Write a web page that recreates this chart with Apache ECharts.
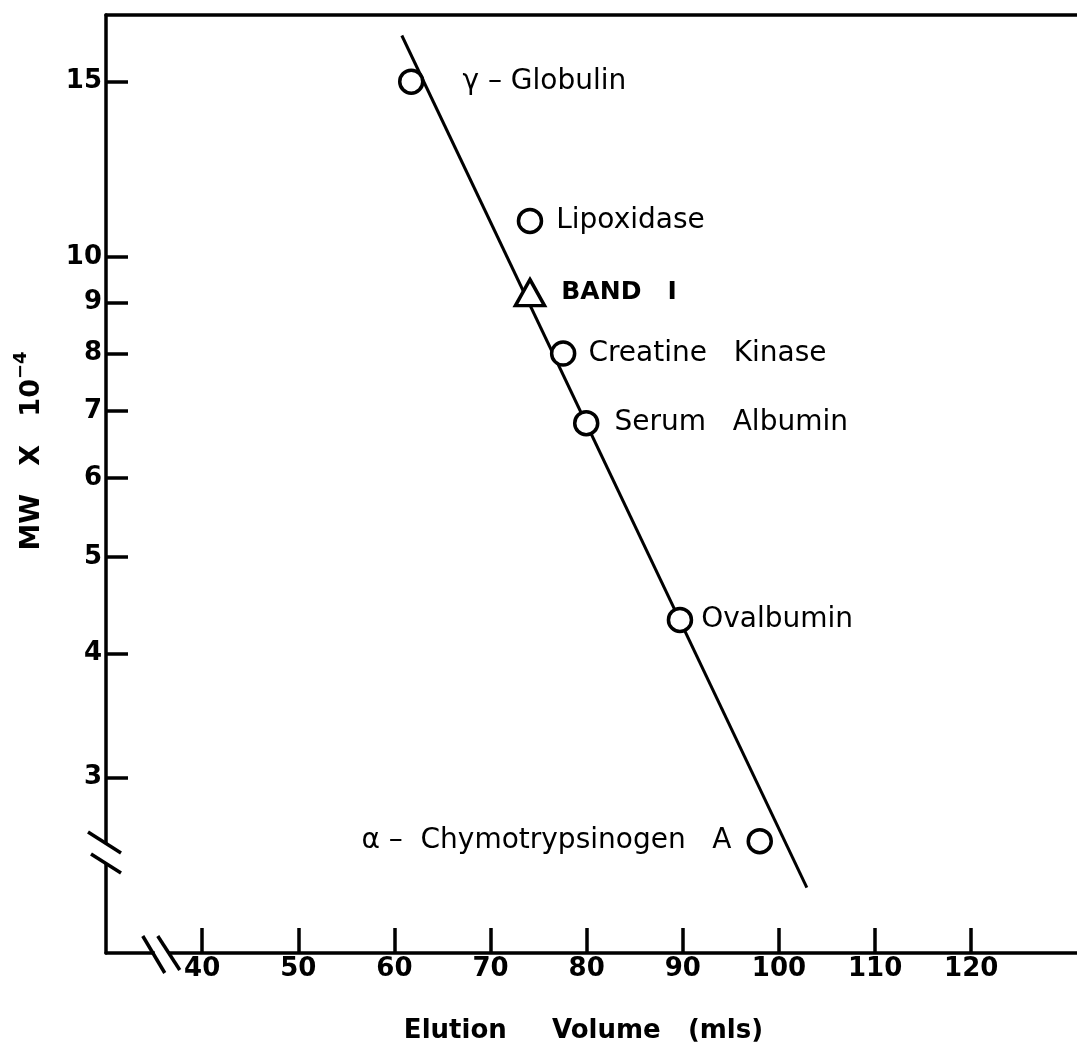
<!DOCTYPE html>
<html><head><meta charset="utf-8">
<script src="https://cdn.jsdelivr.net/npm/echarts@6/dist/echarts.min.js"></script>
<style>html,body{margin:0;padding:0;background:#fff}#c{width:1077px;height:1049px}</style>
</head><body><div id="c"></div>
<script>
// ---- data ----
const proteinNames = ['γ – Globulin', 'Lipoxidase', 'Creatine   Kinase', 'Serum   Albumin', 'Ovalbumin', 'α –  Chymotrypsinogen   A'];
const proteinElution = [61.75, 74.1, 77.55, 79.95, 89.7, 98.0];
const proteinMW = [15, 10.87, 8.0, 6.81, 4.32, 2.59];
const bandNames = ['BAND   I'];
const bandElution = [74.1];
const bandMW = [9.21];
const fitElution = [60.77, 102.9];
const fitMW = [16.69, 2.326];
const xTicks = [40, 50, 60, 70, 80, 90, 100, 110, 120];
const yTicks = [3, 4, 5, 6, 7, 8, 9, 10, 15];

// label placement (layout, not data)
const proteinLabelLayout = [
  {position: 'right', distance: 38},
  {position: 'right', distance: 13},
  {position: 'right', distance: 12},
  {position: 'right', distance: 15},
  {position: 'right', distance: 8},
  {position: 'left', distance: 15}
];

const FONT = 'DejaVu Sans';
const chart = echarts.init(document.getElementById('c'), null, {renderer: 'canvas'});

const proteinData = proteinNames.map((n, i) => ({
  name: n, value: [proteinElution[i], proteinMW[i]],
  label: Object.assign({show: true, formatter: n}, proteinLabelLayout[i])
}));
const bandData = bandNames.map((n, i) => ({
  name: n, value: [bandElution[i], bandMW[i]],
  label: {show: true, formatter: n, position: 'right', distance: 15}
}));

const axisLineStyle = {color: '#000', width: 3.5};
const option = {
  animation: false,
  backgroundColor: '#fff',
  grid: {left: 106, right: 0, top: 15, bottom: 96, containLabel: false, outerBoundsMode: 'none'},
  xAxis: [{
    type: 'value', min: 30, max: 131,
    splitLine: {show: false},
    axisLine: {show: true, onZero: false, lineStyle: axisLineStyle},
    axisTick: {show: true, inside: true, length: 25, customValues: xTicks, lineStyle: {color: '#000', width: 3.5}},
    axisLabel: {customValues: xTicks, margin: 3, color: '#000', fontFamily: FONT, fontWeight: 'bold', fontSize: 26},
    name: 'Elution     Volume   (mls)', nameLocation: 'middle', nameGap: 65,
    nameTextStyle: {color: '#000', fontFamily: FONT, fontWeight: 'bold', fontSize: 26, padding: [0, 16, 0, 0]}
  }, {
    type: 'value', min: 30, max: 131, position: 'top',
    splitLine: {show: false},
    axisLine: {show: true, onZero: false, lineStyle: axisLineStyle},
    axisTick: {show: false}, axisLabel: {show: false}
  }],
  yAxis: [{
    type: 'log', logBase: 10, min: 2, max: 17.5,
    splitLine: {show: false}, minorTick: {show: false},
    axisLine: {show: true, onZero: false, lineStyle: axisLineStyle},
    axisTick: {show: true, inside: true, length: 22, customValues: yTicks, lineStyle: {color: '#000', width: 3.5}},
    axisLabel: {customValues: yTicks, margin: 4, color: '#000', fontFamily: FONT, fontWeight: 'bold', fontSize: 26,
      formatter: v => String(Math.round(v))},
    name: 'MW   X   10{sup|−4}', nameLocation: 'middle', nameGap: 54,
    nameTextStyle: {color: '#000', fontFamily: FONT, fontWeight: 'bold', fontSize: 27, lineHeight: 40,
      padding: [0, 0, 0, 66],
      rich: {sup: {fontFamily: FONT, fontWeight: 'bold', fontSize: 18, lineHeight: 40, verticalAlign: 'top', color: '#000'}}}
  }],
  series: [{
    type: 'line', name: 'fit', z: 2,
    data: fitElution.map((x, i) => [x, fitMW[i]]),
    symbol: 'none', lineStyle: {color: '#000', width: 3}
  }, {
    type: 'scatter', name: 'proteins', z: 3,
    symbol: 'circle', symbolSize: 23,
    itemStyle: {color: '#fff', borderColor: '#000', borderWidth: 3.5, opacity: 1},
    label: {color: '#000', fontFamily: FONT, fontSize: 28},
    data: proteinData
  }, {
    type: 'scatter', name: 'band', z: 3,
    symbol: 'triangle', symbolSize: [29, 26],
    itemStyle: {color: '#fff', borderColor: '#000', borderWidth: 3.5, opacity: 1},
    label: {color: '#000', fontFamily: FONT, fontSize: 25, fontWeight: 'bold'},
    data: bandData
  }]
};
chart.setOption(option);

// axis-break marks, placed through the axes' own coordinate conversion
const breakX = 35.8, breakY = 2.52;
const py = chart.convertToPixel({xAxisIndex: 0, yAxisIndex: 0}, [30, breakY]);
const px = chart.convertToPixel({xAxisIndex: 0, yAxisIndex: 0}, [breakX, 2]);
const ls = {stroke: '#000', lineWidth: 3.5};
chart.setOption({graphic: [
  {type: 'rect', shape: {x: py[0] - 4, y: py[1] - 9, width: 8, height: 19}, style: {fill: '#fff'}, z: 100},
  {type: 'line', shape: {x1: py[0] - 18, y1: py[1] - 21, x2: py[0] + 15, y2: py[1]}, style: ls, z: 101},
  {type: 'line', shape: {x1: py[0] - 15, y1: py[1] + 1, x2: py[0] + 15, y2: py[1] + 20}, style: ls, z: 101},
  {type: 'rect', shape: {x: px[0] - 7, y: px[1] - 4, width: 14, height: 8}, style: {fill: '#fff'}, z: 100},
  {type: 'line', shape: {x1: px[0] - 19, x2: px[0] + 3, y1: px[1] - 17, y2: px[1] + 20}, style: ls, z: 101},
  {type: 'line', shape: {x1: px[0] - 4, x2: px[0] + 18, y1: px[1] - 17, y2: px[1] + 17}, style: ls, z: 101}
]});
</script>
</body></html>
